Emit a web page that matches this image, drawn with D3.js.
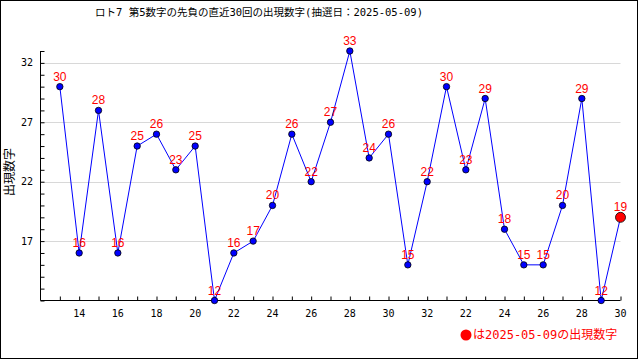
<!DOCTYPE html>
<html><head><meta charset="utf-8">
<script src="https://cdn.jsdelivr.net/npm/d3@7"></script>
<style>html,body{margin:0;padding:0;background:#fff;}svg{display:block;}</style>
</head><body>
<svg id="c" width="640" height="360"></svg>
<script>
const titleText = "ロト7 第5数字の先負の直近30回の出現数字(抽選日：2025-05-09)";
const yLabel = "出現数字";
const legendText = "は2025-05-09の出現数字";
const drawLabels = ["13","14","15","16","17","18","19","20","21","22","23","24","25","26","27","28","29","30","31","32","21","22","23","24","25","26","27","28","29","30"];
const values = [30,16,28,16,25,26,23,25,12,16,17,20,26,22,27,33,24,26,15,22,30,23,29,18,15,15,20,29,12,19];
const yMajorTicks = [17,22,27,32];

const svg = d3.select("#c");
svg.append("rect").attr("x",0.5).attr("y",0.5).attr("width",637).attr("height",358)
  .attr("fill","#fff").attr("stroke","#000");

const x = d3.scaleLinear().domain([-1, values.length-1]).range([40.5, 620.5]);
const y = d3.scaleLinear().domain([12, 33]).range([300.5, 51]);

// gridlines
svg.append("g").selectAll("line").data(yMajorTicks).join("line")
  .attr("x1", 41).attr("x2", 620.5)
  .attr("y1", d => Math.round(y(d))+0.5).attr("y2", d => Math.round(y(d))+0.5)
  .attr("stroke", "#d8d8d8");

// y axis
const yMinor = d3.range(12, 34);
const yAxis = d3.axisRight(y).tickValues(yMinor).tickSize(4).tickFormat("");
svg.append("g").attr("transform","translate(40.5,0)").call(yAxis)
  .call(g => g.select(".domain").attr("d", `M0,${y(33)}V${y(12)}`));
svg.append("g").selectAll("text").data(yMajorTicks).join("text")
  .attr("x", 33).attr("y", d => y(d)).attr("dy","0.35em")
  .attr("text-anchor","end").attr("font-family","DejaVu Sans Mono").attr("font-size",10)
  .text(d => d);

// x axis
const idx = d3.range(values.length);
const xAxis = d3.axisTop(x).tickValues(idx).tickSize(4).tickFormat("");
svg.append("g").attr("transform","translate(0,300.5)").call(xAxis)
  .call(g => g.select(".domain").attr("d", `M${x(-1)},0H${x(values.length-1)}`));
svg.append("g").selectAll("text").data(idx.filter(i => i % 2 === 1)).join("text")
  .attr("x", i => x(i)).attr("y", 313).attr("dy","0.35em")
  .attr("text-anchor","middle").attr("font-family","DejaVu Sans Mono").attr("font-size",10)
  .text(i => drawLabels[i]);

// line
const line = d3.line().x((d,i) => x(i)).y(d => y(d));
svg.append("path").datum(values).attr("d", line).attr("fill","none").attr("stroke","#0000ff").attr("stroke-width",1);

// points
const last = values.length-1;
svg.append("g").selectAll("circle").data(values).join("circle")
  .attr("cx", (d,i) => x(i)).attr("cy", d => y(d))
  .attr("r", (d,i) => i === last ? 5 : 3.2)
  .attr("fill", (d,i) => i === last ? "#ff0000" : "#0000ff")
  .attr("stroke", "#000").attr("stroke-width", 0.8);

// value labels
svg.append("g").selectAll("text").data(values).join("text")
  .attr("x", (d,i) => x(i)).attr("y", d => y(d) - 6)
  .attr("text-anchor","middle").attr("font-family","Liberation Sans, Arial, sans-serif").attr("font-size",12)
  .attr("fill","#ff0000").text(d => d);

// title
svg.append("text").attr("x", 259).attr("y", 12).attr("dy","0.35em").attr("text-anchor","middle")
  .attr("font-family","DejaVu Sans Mono, Noto Sans CJK JP").attr("font-size",10.5).text(titleText);

// y label
svg.append("text").attr("transform","translate(10,172) rotate(-90)").attr("dy","0.35em")
  .attr("text-anchor","middle").attr("font-family","Noto Sans CJK JP").attr("font-size",12).text(yLabel);

// legend
const lg = svg.append("g").attr("fill","#ff0000");
lg.append("circle").attr("cx", 466).attr("cy", 335).attr("r", 5.5);
lg.append("text").attr("x", 473).attr("y", 335).attr("dy","0.35em")
  .attr("font-family","DejaVu Sans Mono, Noto Sans CJK JP").attr("font-size",12).text(legendText);
</script>
</body></html>
